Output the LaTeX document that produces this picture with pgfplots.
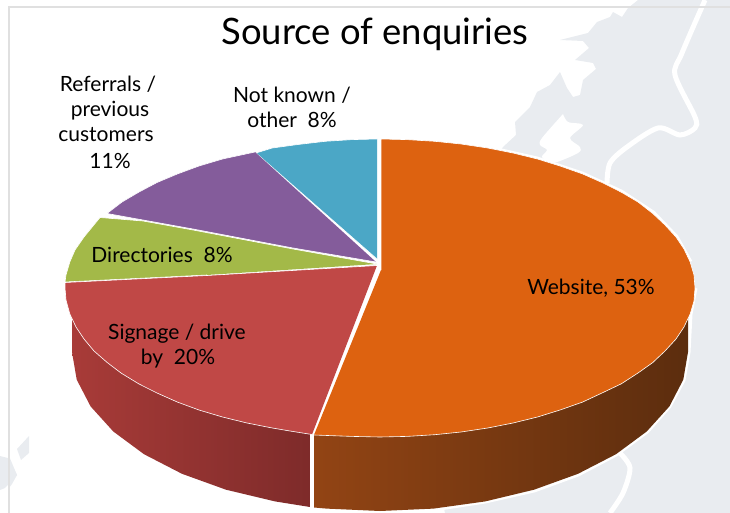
\documentclass[border=0pt]{standalone}
\usepackage{pgfplots}
\pgfplotsset{compat=1.18}
\usepackage{fontspec}
\setmainfont{Lato}
\definecolor{mapg}{HTML}{E9ECF0}
\definecolor{framec}{HTML}{E0E0E0}
\definecolor{orangeT}{HTML}{DD6210}
\definecolor{blueT}{HTML}{4BA7C6}
\definecolor{purpleT}{HTML}{845C9B}
\definecolor{greenT}{HTML}{A3B948}
\definecolor{redT}{HTML}{C04846}
\begin{document}
\begin{tikzpicture}
\useasboundingbox (0,0) rectangle (730pt,513pt);
\begin{axis}[at={(0,0)},anchor=south west,width=730pt,height=513pt,scale only axis,
  xmin=0,xmax=730,ymin=0,ymax=513,y dir=reverse,hide axis,clip=true]
% map background
\addplot[fill=mapg,draw=none,forget plot] coordinates {
(638,0)(628,8)(622,17)(613,12)(610,17)(597,22)(588,33)(560,40)(583,41)(589,48)(575,60)(593,63)(596,69)(583,80)(580,95)(573,97)(567,88)(560,72)(550,85)(537,92)(530,107)(515,122)(516,135)(503,147)(400,300)(445,513)(730,513)(730,0)};
\addplot[fill=white,draw=none,forget plot,smooth] coordinates {
(563,114)(568,122)(583,125)(570,138)(580,147)(578,153)(553,163)(542,157)(547,150)(540,145)(542,138)(563,114)};
\addplot[draw=white,line width=5pt,forget plot,smooth] coordinates {
(705,0)(682,53)(675,75)(695,117)(695,128)(680,135)(658,128)(627,147)(610,163)(607,183)};
\addplot[draw=white,line width=5pt,forget plot,smooth] coordinates {
(620,453)(630,468)(623,493)(610,513)};
\addplot[fill=mapg,draw=none,forget plot] coordinates {(0,456)(8,458)(17,475)(5,488)(0,490)};
\addplot[fill=mapg,draw=none,forget plot] coordinates {(9,456)(17,475)(12,484)(9,488)};
\addplot[fill=mapg,draw=none,forget plot] coordinates {(17,449)(29,436)(29,453)(21,460)};
% frame
\addplot[draw=framec,line width=1.8pt,forget plot] coordinates {(730,7)(9,7)(9,513)};
% halo
\addplot[draw=white,fill=white,line width=5pt,forget plot] coordinates {
(695,288)(690,314)(688,352)(683,380)(669,406)(647,431)(616,454)(578,474)(534,490)(485,501)(433,509)(380,511)(326,509)(275,501)(226,490)(182,474)(144,454)(113,431)(91,406)(77,380)(72,352)(65,288)(84,237)(107,213)(139,192)(177,174)(222,159)(272,148)(325,141)(380,139)(435,141)(488,148)(537,159)(582,174)(621,192)(653,213)(676,237)(690,262)};
% sides
\addplot[draw=none,forget plot,
  left color={rgb,255:red,168;green,59;blue,56},right color={rgb,255:red,126;green,43;blue,42}] coordinates {
(310,432)(310,507)(275,501.4)(226,489.7)(182,473.8)(144,454.2)(113.3,431.5)(90.6,406.4)(76.7,379.6)(72,352)(72,315)(120,360)};
\addplot[draw=none,forget plot,
  left color={rgb,255:red,146;green,68;blue,20},middle color={rgb,255:red,92;green,45;blue,14},right color={rgb,255:red,92;green,45;blue,14}] coordinates {
(314,434)(314,507.5)(326.5,508.6)(380,511)(433.5,508.6)(485.3,501.4)(534,489.7)(578,473.8)(616,454.2)(646.7,431.5)(669.4,406.4)(683.3,379.6)(688,352)(688,310)(600,380)};
% top slices
\addplot[fill=blueT,draw=white,line width=.6pt,forget plot] coordinates {
(377,259)(256,153)(272.3,148)(298,144.5)(325.3,141.3)(352,139.6)(377,139)};
\addplot[fill=purpleT,draw=white,line width=.6pt,forget plot] coordinates {
(376,262)(293,248)(193,229)(143,220)(107,213.5)(122,202)(138.7,192.2)(157,182.5)(177.5,173.9)(199,166)(222.5,159)(255,152)};
\addplot[fill=greenT,draw=white,line width=.6pt,forget plot] coordinates {
(377,264)(293,249)(193,230)(143,221)(100,217.5)(84,237)(75,250)(69.8,262.1)(66,275)(65,282)(207,275)};
\addplot[fill=redT,draw=white,line width=.6pt,forget plot] coordinates {
(377,265.5)(207,275.5)(65,282.5)(65,288)(66,300)(69.8,313.9)(76,327)(84,339)(94,351)(107.2,362.5)(121,373)(138.7,383.8)(157,393)(177.5,402.1)(199,410)(222.5,417)(247,423)(272.3,428)(290,431)(312,434.5)};
\addplot[fill=orangeT,draw=white,line width=.6pt,forget plot] coordinates {
(381,270)(381,139)(407,139.6)(434.7,141.3)(461,144)(487.7,148)(513,153)(537.5,159)(560,166)(582.5,173.9)(602,182.5)(621.3,192.2)(638,202)(652.8,213.5)(665,225)(676,237)(684,249)(690.2,262.1)(694,275)(695,288)(694,301)(690.2,313.9)(684,327)(676,339)(665,351)(652.8,362.5)(638,373)(621.3,383.8)(602,393)(582.5,402.1)(560,410)(537.5,417)(513,423)(487.7,428)(461,432)(434.7,434.7)(407,436.4)(380,437)(352,436.4)(314,435)};
% labels
\node[font=\fontsize{36.4}{36}\selectfont] at (axis cs:375,34.5) {Source of enquiries};
\node[font=\fontsize{21}{21}\selectfont] at (axis cs:108,84.5) {Referrals /};
\node[font=\fontsize{21}{21}\selectfont] at (axis cs:110,110.5) {previous};
\node[font=\fontsize{21}{21}\selectfont] at (axis cs:106,134.5) {customers};
\node[font=\fontsize{21}{21}\selectfont] at (axis cs:110,160.5) {11\%};
\node[font=\fontsize{21}{21}\selectfont] at (axis cs:292,95.5) {Not known /};
\node[font=\fontsize{21}{21}\selectfont] at (axis cs:292,119.5) {other\ \ 8\%};
\node[font=\fontsize{21}{21}\selectfont] at (axis cs:162,254.5) {Directories\ \ 8\%};
\node[font=\fontsize{21}{21}\selectfont] at (axis cs:177,333.5) {Signage / drive};
\node[font=\fontsize{21}{21}\selectfont] at (axis cs:178,358.5) {by\ \ 20\%};
\node[font=\fontsize{21}{21}\selectfont] at (axis cs:591,288.5) {Website, 53\%};
\end{axis}
\end{tikzpicture}
\end{document}
